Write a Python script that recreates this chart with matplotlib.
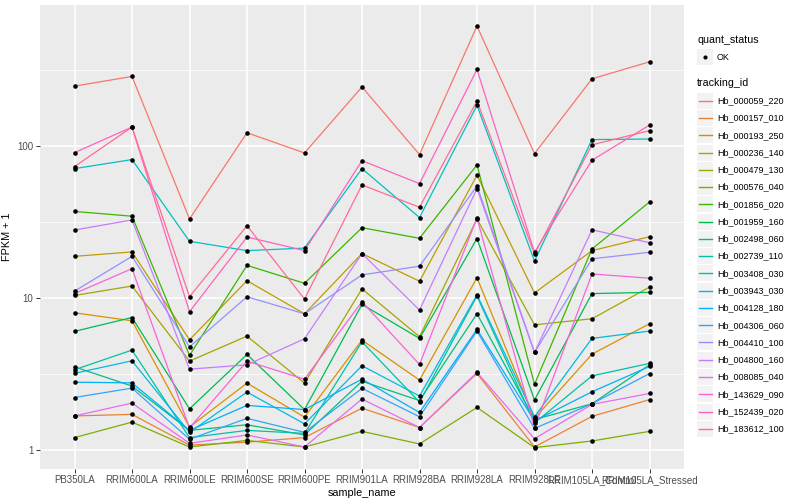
import numpy as np
import matplotlib
matplotlib.use("Agg")
import matplotlib.pyplot as plt
from matplotlib.patches import Rectangle

plt.rcParams["font.family"] = ["Liberation Sans", "DejaVu Sans"]

# sample order on the x axis
samples = ["PB350LA", "RRIM600LA", "RRIM600LE", "RRIM600SE", "RRIM600PE", "RRIM901LA",
           "RRIM928BA", "RRIM928LA", "RRIM928LE", "RRIM105LA_Control", "RRIM105LA_Stressed"]

tracking_ids = ["Hb_000059_220", "Hb_000157_010", "Hb_000193_250", "Hb_000236_140",
                "Hb_000479_130", "Hb_000576_040", "Hb_001856_020", "Hb_001959_160",
                "Hb_002498_060", "Hb_002739_110", "Hb_003408_030", "Hb_003943_030",
                "Hb_004128_180", "Hb_004306_060", "Hb_004410_100", "Hb_004800_160",
                "Hb_008085_040", "Hb_143629_090", "Hb_152439_020", "Hb_183612_100"]

# FPKM + 1 per gene, one value per sample
hb_000059_220 = [247, 286, 33.1, 122, 89.9, 244, 87.7, 613, 89.0, 276, 357]
hb_000157_010 = [1.68, 1.72, 1.08, 1.13, 1.21, 1.89, 1.41, 3.20, 1.05, 1.67, 2.15]
hb_000193_250 = [8.0, 7.09, 1.42, 2.76, 1.65, 5.29, 2.89, 13.6, 1.62, 4.28, 6.78]
hb_000236_140 = [18.8, 20.1, 5.32, 13.0, 7.88, 19.6, 12.9, 64.1, 10.8, 20.5, 25.3]
hb_000479_130 = [10.4, 12.0, 3.85, 5.62, 2.76, 11.5, 5.57, 33.1, 6.67, 7.31, 11.8]
hb_000576_040 = [1.21, 1.53, 1.05, 1.16, 1.05, 1.33, 1.10, 1.91, 1.04, 1.15, 1.33]
hb_001856_020 = [37.1, 34.5, 4.20, 16.4, 12.5, 29.0, 24.7, 75.0, 2.71, 21.0, 42.8]
hb_001959_160 = [6.04, 7.45, 1.87, 4.26, 1.85, 9.09, 5.43, 24.6, 2.14, 10.7, 10.9]
hb_002498_060 = [3.53, 2.64, 1.35, 1.47, 1.26, 2.84, 2.12, 7.88, 1.59, 2.02, 3.64]
hb_002739_110 = [3.38, 4.55, 1.21, 1.35, 1.29, 5.16, 2.07, 10.3, 1.51, 3.08, 3.72]
hb_003408_030 = [70.9, 81.3, 23.6, 20.5, 21.3, 70.9, 33.8, 185, 17.5, 110, 111]
hb_003943_030 = [3.20, 3.87, 1.31, 2.41, 1.49, 3.59, 2.27, 10.5, 1.66, 5.43, 6.07]
hb_004128_180 = [2.80, 2.77, 1.35, 1.97, 1.85, 2.93, 1.77, 6.22, 1.56, 2.42, 3.55]
hb_004306_060 = [2.22, 2.56, 1.18, 1.62, 1.31, 2.55, 1.66, 6.07, 1.39, 2.02, 3.19]
hb_004410_100 = [11.1, 18.8, 4.78, 10.2, 7.88, 14.2, 16.2, 54.6, 4.39, 18.1, 20.0]
hb_004800_160 = [28.0, 32.6, 3.41, 3.64, 5.40, 19.6, 8.34, 52.4, 4.39, 28.1, 23.1]
hb_008085_040 = [1.68, 2.04, 1.11, 1.26, 1.05, 2.17, 1.41, 3.25, 1.19, 2.00, 2.36]
hb_143629_090 = [10.7, 15.6, 1.40, 3.85, 2.93, 9.46, 3.66, 33.6, 1.41, 14.4, 13.5]
hb_152439_020 = [90.3, 133, 8.13, 25.2, 20.5, 80.0, 56.5, 318, 20.0, 80.5, 137]
hb_183612_100 = [73.1, 133, 10.2, 29.9, 9.85, 55.4, 39.5, 197, 19.5, 101.6, 126]

series = [hb_000059_220, hb_000157_010, hb_000193_250, hb_000236_140, hb_000479_130,
          hb_000576_040, hb_001856_020, hb_001959_160, hb_002498_060, hb_002739_110,
          hb_003408_030, hb_003943_030, hb_004128_180, hb_004306_060, hb_004410_100,
          hb_004800_160, hb_008085_040, hb_143629_090, hb_152439_020, hb_183612_100]

quant_status = ["OK"]

# ggplot default hue palette for 20 levels
palette = ["#F8766D", "#EA8331", "#D89000", "#C09B00", "#A3A500", "#7CAE00", "#39B600",
           "#00BB4E", "#00BF7D", "#00C1A3", "#00BFC4", "#00BAE0", "#00B0F6", "#35A2FF",
           "#9590FF", "#C77CFF", "#E76BF3", "#FA62DB", "#FF62BC", "#FF6C91"]

fig = plt.figure(figsize=(8, 5), dpi=100)
ax = fig.add_axes([0.05, 0.0626, 0.805, 0.9274])
ax.set_facecolor("#EBEBEB")

x = np.arange(len(samples))
for vals, col in zip(series, palette):
    ax.plot(x, vals, color=col, lw=0.9, zorder=3)
for vals in series:
    ax.plot(x, vals, "o", color="black", ms=3.3, mew=0, zorder=4)

ax.set_yscale("log")
allv = np.log10(np.concatenate(series))
span = allv.max() - allv.min()
ax.set_ylim(10 ** (allv.min() - 0.05 * span), 10 ** (allv.max() + 0.05 * span))
ax.set_xlim(-0.6, len(samples) - 0.4)

ax.set_yticks([1, 10, 100])
ax.set_yticklabels(["1", "10", "100"])
ax.set_yticks([10 ** 0.5, 10 ** 1.5, 10 ** 2.5], minor=True)
ax.yaxis.set_minor_formatter(plt.NullFormatter())
ax.set_xticks(x)
ax.set_xticklabels(samples)

ax.grid(True, which="major", color="white", lw=1.1, zorder=0)
ax.grid(True, which="minor", axis="y", color="white", lw=0.55, zorder=0)
ax.set_axisbelow(True)
for s in ax.spines.values():
    s.set_visible(False)
ax.tick_params(which="major", length=2.8, width=0.7, color="#333333",
               labelsize=7, labelcolor="#4D4D4D", pad=2)
ax.tick_params(which="minor", length=0)

ax.set_xlabel("sample_name", fontsize=7.8, labelpad=2)
ax.set_ylabel("FPKM + 1", fontsize=7.8, labelpad=4)

# legends drawn in pixel coordinates on an overlay
lax = fig.add_axes([0, 0, 1, 1])
lax.set_xlim(0, 800)
lax.set_ylim(500, 0)
lax.axis("off")

kx, kw, kh = 697, 16, 16
lax.text(kx, 40, "quant_status", fontsize=7.7, va="center", ha="left")
lax.add_patch(Rectangle((kx, 49), kw, kh, color="#F2F2F2", lw=0))
lax.plot([kx + kw / 2], [57], "o", color="black", ms=3.0, mew=0)
lax.text(kx + 20, 57, quant_status[0], fontsize=6.5, va="center", ha="left")

lax.text(kx, 83, "tracking_id", fontsize=7.7, va="center", ha="left")
step = 17.27
for i, (name, col) in enumerate(zip(tracking_ids, palette)):
    yc = 100.7 + i * step
    lax.add_patch(Rectangle((kx, yc - kh / 2), kw, kh, color="#F2F2F2", lw=0))
    lax.plot([kx + 1.5, kx + kw - 1.5], [yc, yc], color=col, lw=1.0)
    lax.text(kx + 20, yc, name, fontsize=6.5, va="center", ha="left")

fig.savefig("out.png", dpi=100)
